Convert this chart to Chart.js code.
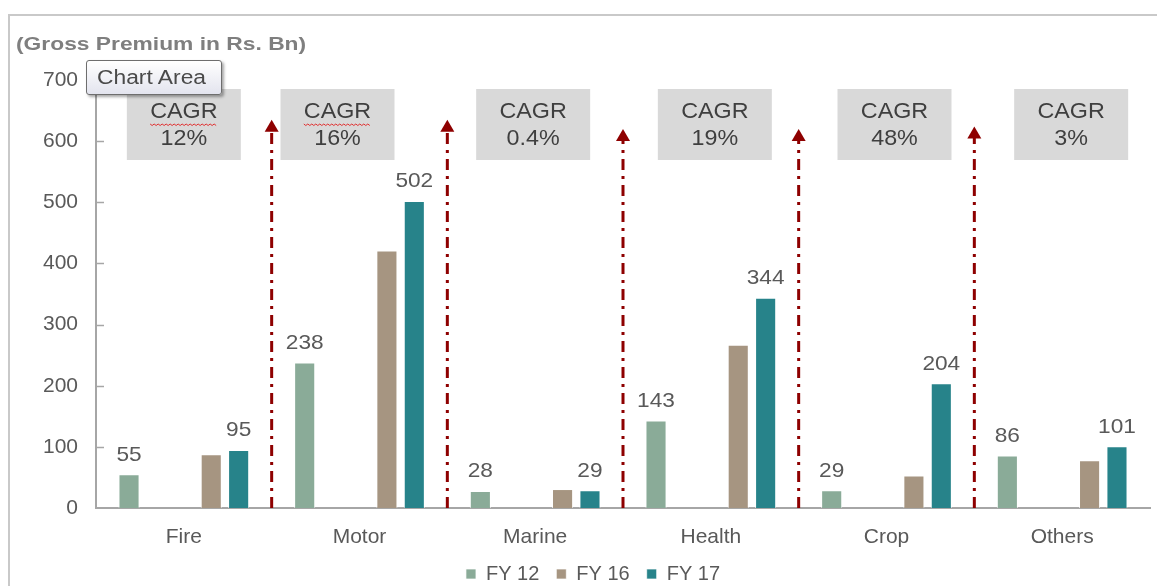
<!DOCTYPE html>
<html>
<head>
<meta charset="utf-8">
<script src="https://cdn.jsdelivr.net/npm/chart.js@4.4.1/dist/chart.umd.min.js"></script>
<style>
  html, body { margin: 0; padding: 0; background: #fff; }
  body { width: 1157px; height: 586px; position: relative; overflow: hidden; font-family: 'Liberation Sans', Arial, sans-serif; }
  #frame { position: absolute; left: 8px; top: 14px; width: 1200px; height: 600px; border-left: 2px solid #c9c9c9; border-top: 2px solid #c9c9c9; }
  #title { position: absolute; left: 16px; top: 33px; font-size: 19px; font-weight: bold; color: #7f7f7f;
           transform: scaleX(1.2); transform-origin: left top; white-space: nowrap; }
  #tip { position: absolute; left: 86px; top: 60px; width: 136px; height: 35px; box-sizing: border-box;
         border: 1px solid #6e6e6e; border-radius: 3px; background: linear-gradient(#ffffff, #e3e4ee);
         box-shadow: 2px 2px 3px rgba(0,0,0,0.35); padding: 5px 0 0 10px; }
  #tip span { display: inline-block; font-size: 20px; color: #4a4a4a; transform: scaleX(1.14); transform-origin: left top; white-space: nowrap; }
  canvas { position: absolute; left: 0; top: 0; }
</style>
</head>
<body>
<div id="frame"></div>
<canvas id="premiumChart" width="1157" height="586"></canvas>
<div id="title">(Gross Premium in Rs. Bn)</div>
<div id="tip"><span>Chart Area</span></div>
<script>
// ============================================================
// DATA
// ============================================================
const categories = ['Fire', 'Motor', 'Marine', 'Health', 'Crop', 'Others'];
const fy12 = [55, 238, 28, 143, 29, 86];
const fy16 = [88, 421, 31, 267, 53, 78];
const fy17 = [95, 502, 29, 344, 204, 101];
const cagr = ['12%', '16%', '0.4%', '19%', '48%', '3%'];
const yTicks = [0, 100, 200, 300, 400, 500, 600, 700];

// layout tweaks for the annotation boxes / arrows (pixels, not data)
const boxShift = [0, -22, -2, 4, 8, 9];
const arrowTop = [635, 635, 620, 620, 624];

const FONT = "'Liberation Sans', Arial, sans-serif";
const TXT  = '#595959';
const blank = categories.map(() => null);

// text a bit wider than normal, like the source picture
function wideText(ctx, str, x, y, sx) {
  ctx.save();
  ctx.translate(x, y);
  ctx.scale(sx, 1);
  ctx.fillText(str, 0, 0);
  ctx.restore();
}

// ============================================================
// PLUGIN: inside ticks, value labels, CAGR boxes, arrows
// ============================================================
const annotations = {
  id: 'annotations',
  afterDatasetsDraw(chart) {
    const { ctx, scales: { x, y } } = chart;
    ctx.save();

    // inside tick marks on the y axis
    ctx.strokeStyle = '#a6a6a6';
    ctx.lineWidth = 1.5;
    yTicks.slice(1).forEach(v => {
      const py = Math.round(y.getPixelForValue(v)) + 0.5;
      ctx.beginPath();
      ctx.moveTo(x.left, py);
      ctx.lineTo(x.left + 8, py);
      ctx.stroke();
    });

    // value labels on FY12 and FY17 bars
    ctx.font = '21px ' + FONT;
    ctx.fillStyle = TXT;
    ctx.textAlign = 'center';
    ctx.textBaseline = 'bottom';
    [0, 4].forEach(di => {
      const meta = chart.getDatasetMeta(di);
      meta.data.forEach((bar, i) => {
        const v = chart.data.datasets[di].data[i];
        wideText(ctx, String(v), bar.x, bar.y - 9, 1.08);
      });
    });

    // CAGR boxes
    const boxTop = 89, boxH = 71, boxW = 114;
    categories.forEach((c, i) => {
      const cx = x.getPixelForValue(i) + boxShift[i];
      ctx.fillStyle = '#d9d9d9';
      ctx.fillRect(cx - boxW / 2, boxTop, boxW, boxH);
      ctx.fillStyle = '#3f3f3f';
      ctx.font = '22px ' + FONT;
      ctx.textBaseline = 'middle';
      wideText(ctx, 'CAGR', cx, boxTop + 23, 1.06);
      wideText(ctx, cagr[i], cx, boxTop + 50, 1.06);
      if (i < 2) {
        // spell-check squiggle
        const w = ctx.measureText('CAGR').width * 1.06;
        ctx.strokeStyle = '#e03030';
        ctx.lineWidth = 1;
        ctx.beginPath();
        for (let k = 0; k <= w; k += 2) {
          const py = boxTop + 35 + ((k / 2) % 2 ? 1.5 : 0);
          if (k === 0) ctx.moveTo(cx - w / 2 + k, py);
          else ctx.lineTo(cx - w / 2 + k, py);
        }
        ctx.stroke();
      }
    });

    // dash-dot arrows between categories
    ctx.strokeStyle = '#8e0000';
    ctx.fillStyle = '#8e0000';
    ctx.lineWidth = 3;
    for (let i = 0; i < categories.length - 1; i++) {
      const ax = (x.getPixelForValue(i) + x.getPixelForValue(i + 1)) / 2;
      const top = y.getPixelForValue(arrowTop[i]);
      ctx.setLineDash([11, 6, 3, 6]);
      ctx.beginPath();
      ctx.moveTo(ax, y.bottom);
      ctx.lineTo(ax, top + 10);
      ctx.stroke();
      ctx.setLineDash([]);
      ctx.beginPath();
      ctx.moveTo(ax, top);
      ctx.lineTo(ax - 7, top + 12);
      ctx.lineTo(ax + 7, top + 12);
      ctx.closePath();
      ctx.fill();
    }
    ctx.restore();
  }
};

// ============================================================
// CHART
// ============================================================
const barCommon = { borderColor: 'rgba(255,255,255,0.7)', borderWidth: 1, borderSkipped: 'bottom' };

new Chart(document.getElementById('premiumChart'), {
  type: 'bar',
  data: {
    labels: categories,
    datasets: [
      { label: 'FY 12', data: fy12, backgroundColor: '#8aab98', ...barCommon },
      { label: '', data: blank, backgroundColor: 'transparent' },
      { label: '', data: blank, backgroundColor: 'transparent' },
      { label: 'FY 16', data: fy16, backgroundColor: '#a69581', ...barCommon },
      { label: 'FY 17', data: fy17, backgroundColor: '#27838a', ...barCommon },
    ]
  },
  options: {
    responsive: false,
    animation: false,
    layout: { padding: { top: 80, right: 7, left: 36, bottom: -8 } },
    datasets: { bar: { barPercentage: 0.77, categoryPercentage: 0.78 } },
    plugins: {
      legend: {
        position: 'bottom',
        labels: {
          color: TXT, font: { family: FONT, size: 20 },
          boxWidth: 10, boxHeight: 10, padding: 17,
          filter: item => item.text !== ''
        }
      },
      tooltip: { enabled: false }
    },
    scales: {
      x: {
        grid: { display: false },
        border: { color: '#a6a6a6', width: 2 },
        ticks: { color: TXT, font: { family: FONT, size: 21 }, padding: 9 },
        afterFit: s => { s.height = 39; }
      },
      y: {
        min: 0, max: 700,
        afterBuildTicks: s => { s.ticks = yTicks.map(v => ({ value: v })); },
        grid: { display: false },
        border: { color: '#a6a6a6', width: 2 },
        ticks: { color: TXT, font: { family: FONT, size: 21 }, padding: 10 },
        afterFit: s => { s.width = 60; }
      }
    }
  },
  plugins: [annotations]
});
</script>
</body>
</html>
